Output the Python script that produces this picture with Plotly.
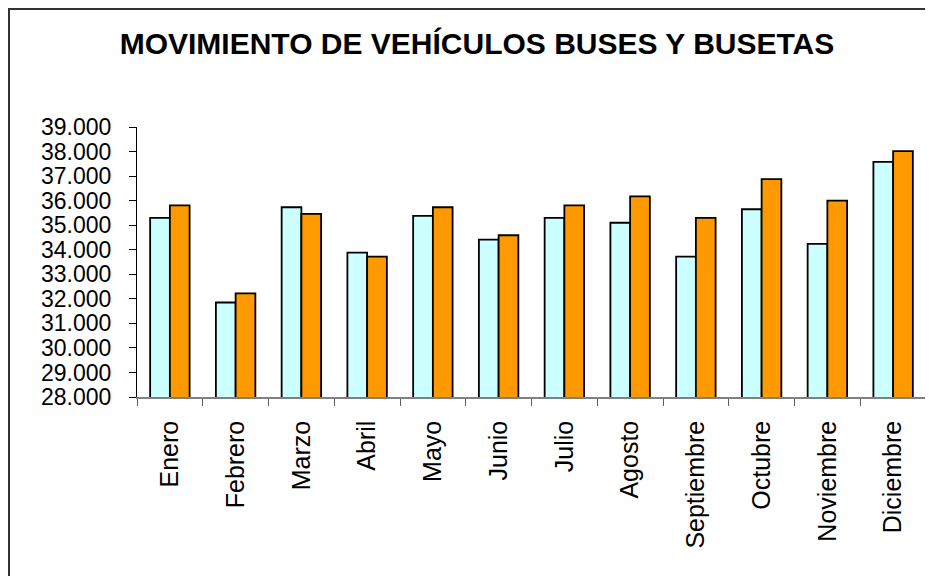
import plotly.graph_objects as go

meses = ["Enero", "Febrero", "Marzo", "Abril", "Mayo", "Junio", "Julio",
         "Agosto", "Septiembre", "Octubre", "Noviembre", "Diciembre"]
serie_1 = [35300, 31850, 35730, 33880, 35380, 34410, 35300, 35100, 33720, 35650, 34240, 37580]
serie_2 = [35810, 32220, 35460, 33720, 35730, 34590, 35810, 36170, 35300, 36880, 36000, 38020]

FONT = "Liberation Sans, Arial, sans-serif"

fig = go.Figure()
fig.add_trace(go.Bar(x=meses, y=serie_1, name="Serie 1",
                     marker=dict(color="#CCFFFF", line=dict(color="#000000", width=1.8))))
fig.add_trace(go.Bar(x=meses, y=serie_2, name="Serie 2",
                     marker=dict(color="#FF9900", line=dict(color="#000000", width=1.8))))

# page body has an 8px margin, so the figure is drawn offset by (8, 8)
OFF = 8
W, H = 933 - OFF, 576 - OFF
L, R, T, B = 137 - OFF, 7, 127 - OFF, 179
pw, ph = W - L - R, H - T - B

def px_x(x):
    return (x - OFF - L) / pw

def px_y(y):
    return (H - B - (y - OFF)) / ph

fig.update_layout(
    width=W, height=H,
    margin=dict(l=L, r=R, t=T, b=B, autoexpand=False),
    paper_bgcolor="white", plot_bgcolor="white",
    separators=",.",
    showlegend=False,
    barmode="group", bargap=0.4, bargroupgap=0,
    font=dict(family=FONT, color="#000000"),
    title=dict(text="<b>MOVIMIENTO DE VEHÍCULOS BUSES Y BUSETAS</b>",
               x=(477 - OFF) / W, xanchor="center", y=1 - (43 - OFF) / H, yanchor="middle",
               font=dict(family=FONT, size=30, color="#000000")),
    xaxis=dict(showgrid=False, showline=True, linecolor="#808080", linewidth=1.5,
               ticks="outside", ticklen=7, tickcolor="#606060", tickwidth=1.2,
               tickson="boundaries", tickangle=-90, ticklabelstandoff=12,
               tickfont=dict(family=FONT, size=25, color="#000000")),
    yaxis=dict(range=[28000, 39000], dtick=1000, tickformat=",d",
               showgrid=False, zeroline=False, showline=True, linecolor="#000000",
               linewidth=1.2, ticks="outside", ticklen=7, tickcolor="#000000",
               tickwidth=1.2, ticklabelstandoff=13,
               tickfont=dict(family=FONT, size=23, color="#000000")),
    shapes=[dict(type="rect", xref="paper", yref="paper",
                 x0=px_x(9), x1=px_x(945), y0=px_y(600), y1=px_y(9),
                 line=dict(color="#333333", width=2), fillcolor="rgba(0,0,0,0)",
                 layer="below")],
)

fig.write_html("out.html")
